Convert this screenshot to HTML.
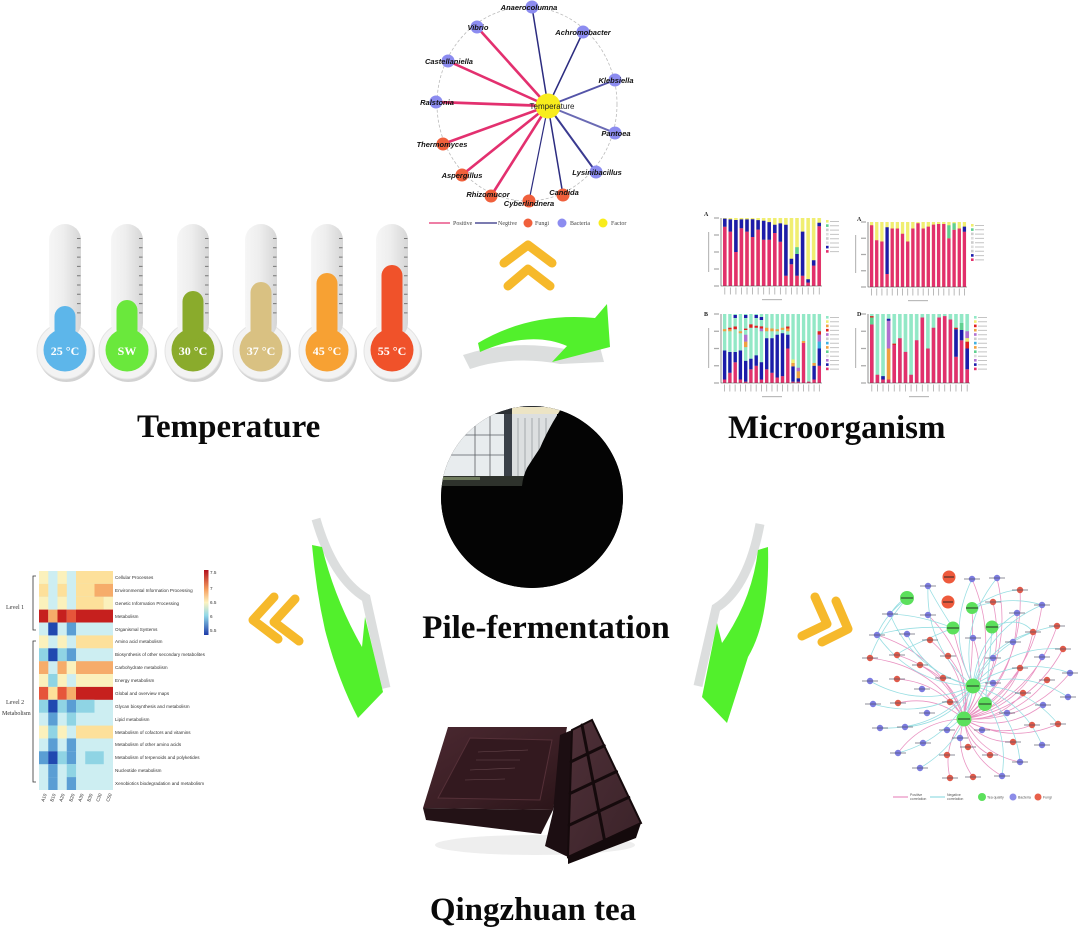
<!DOCTYPE html>
<html><head><meta charset="utf-8"><style>
html,body{margin:0;padding:0;background:#fff;}
svg{display:block;}
.lab{font-family:"Liberation Sans",sans-serif;font-weight:bold;font-style:italic;font-size:7.5px;fill:#111;}
.ttl{font-family:"Liberation Serif",serif;font-weight:bold;font-size:33px;fill:#0a0a0a;}
.tl{font-family:"Liberation Serif",serif;font-weight:bold;font-size:12px;fill:#fff;}
.hm{font-family:"Liberation Sans",sans-serif;font-size:4.6px;fill:#333;}
.sm{font-family:"Liberation Serif",serif;font-size:6px;fill:#444;}
</style></head><body>
<svg width="1080" height="930" viewBox="0 0 1080 930" xmlns="http://www.w3.org/2000/svg">
<defs>
<linearGradient id="tube" x1="0" x2="1" y1="0" y2="0"><stop offset="0" stop-color="#f6f6f6"/><stop offset="0.45" stop-color="#eeeeee"/><stop offset="1" stop-color="#d6d6d6"/></linearGradient>
<linearGradient id="cb" x1="0" x2="0" y1="0" y2="1"><stop offset="0" stop-color="#b2101e"/><stop offset="0.3" stop-color="#f6a060"/><stop offset="0.5" stop-color="#fdf3c0"/><stop offset="0.7" stop-color="#90d8e8"/><stop offset="1" stop-color="#1e3aa8"/></linearGradient>
<linearGradient id="slab" x1="0" x2="1" y1="0" y2="1"><stop offset="0" stop-color="#4a2830"/><stop offset="0.6" stop-color="#3a1e24"/><stop offset="1" stop-color="#2a1418"/></linearGradient>
<linearGradient id="face" x1="0" x2="1" y1="0" y2="1"><stop offset="0" stop-color="#4e3038"/><stop offset="1" stop-color="#3a2228"/></linearGradient>
<clipPath id="pc"><circle cx="532" cy="497" r="91"/></clipPath>
<pattern id="pA" x="722" y="0" width="5.556" height="10" patternUnits="userSpaceOnUse"><rect x="1" y="0" width="3.56" height="10" fill="#f0ee70"/></pattern>
<pattern id="pA2" x="869" y="0" width="5.158" height="10" patternUnits="userSpaceOnUse"><rect x="0.93" y="0" width="3.3" height="10" fill="#f0ee70"/></pattern>
<pattern id="pB" x="722" y="0" width="5.263" height="10" patternUnits="userSpaceOnUse"><rect x="0.95" y="0" width="3.37" height="10" fill="#92e8c6"/></pattern>
<pattern id="pD" x="869" y="0" width="5.611" height="10" patternUnits="userSpaceOnUse"><rect x="1" y="0" width="3.6" height="10" fill="#92e8c6"/></pattern>
</defs>
<rect width="1080" height="930" fill="#fff"/>

<!-- Top network -->
<ellipse cx="527" cy="104" rx="90" ry="97" fill="none" stroke="#bbb" stroke-width="0.8" stroke-dasharray="3,2"/>
<g stroke-linecap="round">
<line x1="548" y1="106" x2="477" y2="27" stroke="#e3306f" stroke-width="2.6"/>
<line x1="548" y1="106" x2="448" y2="61" stroke="#e3306f" stroke-width="2.6"/>
<line x1="548" y1="106" x2="436" y2="102" stroke="#e3306f" stroke-width="2.8"/>
<line x1="548" y1="106" x2="443" y2="144" stroke="#e3306f" stroke-width="2.6"/>
<line x1="548" y1="106" x2="462" y2="175" stroke="#e3306f" stroke-width="2.6"/>
<line x1="548" y1="106" x2="491" y2="196" stroke="#e3306f" stroke-width="2.6"/>
<line x1="548" y1="106" x2="532" y2="7" stroke="#2c2c80" stroke-width="1.5"/>
<line x1="548" y1="106" x2="583" y2="32" stroke="#2c2c80" stroke-width="1.5"/>
<line x1="548" y1="106" x2="615" y2="80" stroke="#5454a8" stroke-width="2"/>
<line x1="548" y1="106" x2="615" y2="133" stroke="#6a6ab4" stroke-width="2"/>
<line x1="548" y1="106" x2="596" y2="172" stroke="#3a3a90" stroke-width="2"/>
<line x1="548" y1="106" x2="563" y2="195" stroke="#2c2c80" stroke-width="1.5"/>
<line x1="548" y1="106" x2="529" y2="201" stroke="#2c2c80" stroke-width="1.2"/>
</g>
<g>
<circle cx="532" cy="7" r="6.5" fill="#8c8cf0"/>
<circle cx="477" cy="27" r="6.5" fill="#8c8cf0"/>
<circle cx="583" cy="32" r="6.5" fill="#8c8cf0"/>
<circle cx="448" cy="61" r="6.5" fill="#8c8cf0"/>
<circle cx="615" cy="80" r="6.5" fill="#8c8cf0"/>
<circle cx="436" cy="102" r="6.5" fill="#8c8cf0"/>
<circle cx="615" cy="133" r="6.5" fill="#8c8cf0"/>
<circle cx="596" cy="172" r="6.5" fill="#8c8cf0"/>
<circle cx="443" cy="144" r="6.5" fill="#f0603c"/>
<circle cx="462" cy="175" r="6.5" fill="#f0603c"/>
<circle cx="491" cy="196" r="6.5" fill="#f0603c"/>
<circle cx="563" cy="195" r="6.5" fill="#f0603c"/>
<circle cx="529" cy="201" r="6.5" fill="#f0603c"/>
<circle cx="548" cy="106" r="12.5" fill="#f8ec1c"/>
</g>
<g class="lab">
<text x="529" y="10" text-anchor="middle">Anaerocolumna</text>
<text x="478" y="30" text-anchor="middle">Vibrio</text>
<text x="583" y="35" text-anchor="middle">Achromobacter</text>
<text x="449" y="64" text-anchor="middle">Castellaniella</text>
<text x="616" y="83" text-anchor="middle">Klebsiella</text>
<text x="437" y="105" text-anchor="middle">Ralstonia</text>
<text x="616" y="136" text-anchor="middle">Pantoea</text>
<text x="442" y="147" text-anchor="middle">Thermomyces</text>
<text x="597" y="175" text-anchor="middle">Lysinibacillus</text>
<text x="462" y="178" text-anchor="middle">Aspergillus</text>
<text x="488" y="197" text-anchor="middle">Rhizomucor</text>
<text x="564" y="195" text-anchor="middle">Candida</text>
<text x="529" y="206" text-anchor="middle">Cyberlindnera</text>
</g>
<text x="552" y="109" text-anchor="middle" font-family="Liberation Sans" font-size="8" fill="#222">Temperature</text>
<g>
<line x1="429" y1="223" x2="450" y2="223" stroke="#e3306f" stroke-width="1.2"/>
<text x="453" y="225" class="sm">Positive</text>
<line x1="475" y1="223" x2="497" y2="223" stroke="#2c2c80" stroke-width="1.2"/>
<text x="498" y="225" class="sm">Negtive</text>
<circle cx="528" cy="223" r="4.5" fill="#f0603c"/><text x="535" y="225" class="sm">Fungi</text>
<circle cx="562" cy="223" r="4.5" fill="#8c8cf0"/><text x="570" y="225" class="sm">Bacteria</text>
<circle cx="603" cy="223" r="4.5" fill="#f8ec1c"/><text x="611" y="225" class="sm">Factor</text>
</g>

<!-- Thermometers -->
<g>
<circle cx="66.5" cy="353.5" r="28.5" fill="#d2d2d2"/><circle cx="65" cy="351" r="28" fill="#f3f3f3" stroke="#e4e4e4"/>
<rect x="49" y="224" width="32" height="115" rx="16" fill="url(#tube)"/>
<circle cx="65" cy="350" r="21.5" fill="#5db6ea"/><rect x="54.5" y="306" width="21" height="34" rx="10.5" fill="#5db6ea"/>
<line x1="78.75" x2="78.75" y1="238" y2="320" stroke="#777" stroke-width="3.5" stroke-dasharray="1 8.3"/>

<circle cx="128.5" cy="353.5" r="28.5" fill="#d2d2d2"/><circle cx="127" cy="351" r="28" fill="#f3f3f3" stroke="#e4e4e4"/>
<rect x="111" y="224" width="32" height="115" rx="16" fill="url(#tube)"/>
<circle cx="127" cy="350" r="21.5" fill="#6ae83c"/><rect x="116.5" y="300" width="21" height="40" rx="10.5" fill="#6ae83c"/>
<line x1="140.75" x2="140.75" y1="238" y2="320" stroke="#777" stroke-width="3.5" stroke-dasharray="1 8.3"/>

<circle cx="194.5" cy="353.5" r="28.5" fill="#d2d2d2"/><circle cx="193" cy="351" r="28" fill="#f3f3f3" stroke="#e4e4e4"/>
<rect x="177" y="224" width="32" height="115" rx="16" fill="url(#tube)"/>
<circle cx="193" cy="350" r="21.5" fill="#8aab2c"/><rect x="182.5" y="291" width="21" height="49" rx="10.5" fill="#8aab2c"/>
<line x1="206.75" x2="206.75" y1="238" y2="320" stroke="#777" stroke-width="3.5" stroke-dasharray="1 8.3"/>

<circle cx="262.5" cy="353.5" r="28.5" fill="#d2d2d2"/><circle cx="261" cy="351" r="28" fill="#f3f3f3" stroke="#e4e4e4"/>
<rect x="245" y="224" width="32" height="115" rx="16" fill="url(#tube)"/>
<circle cx="261" cy="350" r="21.5" fill="#d9c182"/><rect x="250.5" y="282" width="21" height="58" rx="10.5" fill="#d9c182"/>
<line x1="274.75" x2="274.75" y1="238" y2="320" stroke="#777" stroke-width="3.5" stroke-dasharray="1 8.3"/>

<circle cx="328.5" cy="353.5" r="28.5" fill="#d2d2d2"/><circle cx="327" cy="351" r="28" fill="#f3f3f3" stroke="#e4e4e4"/>
<rect x="311" y="224" width="32" height="115" rx="16" fill="url(#tube)"/>
<circle cx="327" cy="350" r="21.5" fill="#f7a133"/><rect x="316.5" y="273" width="21" height="67" rx="10.5" fill="#f7a133"/>
<line x1="340.75" x2="340.75" y1="238" y2="320" stroke="#777" stroke-width="3.5" stroke-dasharray="1 8.3"/>

<circle cx="393.5" cy="353.5" r="28.5" fill="#d2d2d2"/><circle cx="392" cy="351" r="28" fill="#f3f3f3" stroke="#e4e4e4"/>
<rect x="376" y="224" width="32" height="115" rx="16" fill="url(#tube)"/>
<circle cx="392" cy="350" r="21.5" fill="#f0522a"/><rect x="381.5" y="265" width="21" height="75" rx="10.5" fill="#f0522a"/>
<line x1="405.75" x2="405.75" y1="238" y2="320" stroke="#777" stroke-width="3.5" stroke-dasharray="1 8.3"/>
</g>
<g class="tl" text-anchor="middle">
<text x="65" y="355">25 °C</text>
<text x="127" y="355">SW</text>
<text x="193" y="355">30 °C</text>
<text x="261" y="355">37 °C</text>
<text x="327" y="355">45 °C</text>
<text x="392" y="355">55 °C</text>
</g>
<text class="ttl" x="137" y="437">Temperature</text>
<text class="ttl" x="728" y="438">Microorganism</text>
<text class="ttl" x="546" y="638" text-anchor="middle">Pile-fermentation</text>
<text class="ttl" x="533" y="920" text-anchor="middle">Qingzhuan tea</text>

<!-- chevrons -->
<g fill="none" stroke="#f6b92b" stroke-width="9" stroke-linecap="round" stroke-linejoin="round">
<polyline points="504,263 528,245 552,263"/>
<polyline points="508,286 528,269 550,286"/>
<polyline points="274,597 253,620 278,639"/>
<polyline points="295,599 274,622 299,641"/>
<polyline points="815,597 827,624 802,636"/>
<polyline points="836,601 848,629 822,642"/>
</g>

<!-- arrows -->
<path d="M463,355 Q512,339 565,349 L600,347 L604,362 L560,364 Q512,355 470,369 Z" fill="#dcdede"/>
<path d="M316,519 Q333,578 366,598 L386,688" fill="none" stroke="#dcdede" stroke-width="9"/>
<path d="M760,524 Q748,588 716,608 L698,686" fill="none" stroke="#dcdede" stroke-width="9"/>
<path d="M478,343 Q530,312 595,318 L607,304 L610,347 L552,362 L567,346 Q530,330 480,352 Z" fill="#52f02c"/>
<path d="M312,545 L322,547 Q335,600 362,647 L365,617 L383,692 L358,718 Q338,680 325,630 Q316,590 312,545 Z" fill="#52f02c"/>
<path d="M758,550 L768,547 Q770,620 748,657 L727,723 L702,697 L717,623 L722,643 Q752,600 758,550 Z" fill="#52f02c"/>

<!-- Center photo -->
<g clip-path="url(#pc)">
<rect x="440" y="405" width="185" height="185" fill="#040404"/>
<rect x="440" y="414" width="66" height="63" fill="#e8ecee"/>
<rect x="440" y="414" width="30" height="12" fill="#dfe4e8"/>
<g stroke="#5a5e62" stroke-width="0.8">
<line x1="440" y1="435" x2="505" y2="435"/><line x1="440" y1="455" x2="505" y2="455"/>
<line x1="475" y1="416" x2="475" y2="477"/><line x1="490" y1="416" x2="490" y2="477"/>
</g>
<rect x="504" y="412" width="8" height="68" fill="#3a4048"/>
<rect x="512" y="414" width="45" height="66" fill="#dcdfe0"/>
<g stroke="#a4a8ac" stroke-width="1"><line x1="518" y1="418" x2="518" y2="478"/><line x1="525" y1="418" x2="525" y2="478"/><line x1="532" y1="418" x2="532" y2="478"/><line x1="539" y1="418" x2="539" y2="478"/><line x1="546" y1="418" x2="546" y2="478"/></g>
<rect x="440" y="403" width="125" height="11" fill="#2c3034"/>
<rect x="512" y="407" width="48" height="7" fill="#ece4c4"/>
<rect x="440" y="476" width="88" height="10" fill="#2e322c"/>
<rect x="440" y="477" width="40" height="3" fill="#6e7a5c"/>
<path d="M564,404 L553,422 Q545,436 540,448 Q532,460 527,468 Q523,476 522,486 L440,488 L440,600 L640,600 L640,404 Z" fill="#040404"/>
</g>

<!-- Bar charts -->
<rect x="722" y="218" width="100" height="68" fill="url(#pA)"/>
<rect x="869" y="222" width="98" height="65" fill="url(#pA2)"/>
<rect x="722" y="314" width="100" height="69" fill="url(#pB)"/>
<rect x="869" y="314" width="101" height="69" fill="url(#pD)"/>
<g fill="none">
<path stroke="#e2306c" stroke-width="3.56" d="M724.8,286V226.8M730.3,286V231.6M735.9,286V252M741.4,286V228.2M747,286V231.6M752.6,286V237M758.1,286V229.6M763.7,286V239.8M769.2,286V239.8M774.8,286V233M780.3,286V241.8M785.9,286V275.8M791.4,286V264.2M797,286V275.8M802.6,286V275.8M808.1,286V282.6M813.7,286V265.6M819.2,286V226.2"/>
<path stroke="#1c1caa" stroke-width="3.56" d="M724.8,226.8V218.6M730.3,231.6V219.4M735.9,252V220M741.4,228.2V219.4M747,231.6V219.4M752.6,237V219.3M758.1,229.6V220.1M763.7,239.8V220.8M769.2,239.8V222.1M774.8,233V224.8M780.3,241.8V223.4M785.9,275.8V224.8M791.4,264.2V258.8M797,275.8V254M802.6,275.8V231.6M808.1,282.6V279.2M813.7,265.6V260.2M819.2,226.2V222.8"/>
<path stroke="#60d090" stroke-width="3.56" d="M797,254V247.2"/>

<path stroke="#e2306c" stroke-width="3.3" d="M871.6,287V225.3M876.7,287V240.2M881.9,287V241.5M887.1,287V274M892.2,287V228.5M897.4,287V228.5M902.5,287V233.7M907.7,287V241.5M912.9,287V228.5M918,287V223.3M923.2,287V228.5M928.3,287V226.6M933.5,287V224.6M938.6,287V224M943.8,287V224M948.9,287V238.3M954.1,287V229.8M959.3,287V228.5M964.4,287V231.8"/>
<path stroke="#1c1caa" stroke-width="3.3" d="M887.1,274V227.2M964.4,231.8V226.6"/>
<path stroke="#60d090" stroke-width="3.3" d="M948.9,238.3V225.3M954.1,229.8V223.3"/>

<path stroke="#e2306c" stroke-width="3.37" d="M724.6,383V379.5M729.9,383V372.7M735.2,383V362.3M740.4,383V379.5M745.7,383V381.6M750.9,383V369.2M756.2,383V365.8M761.4,383V379.5M766.7,383V369.2M772,383V372.7M777.2,383V377.5M782.5,383V376.1M787.8,383V348.5M793,383V381.6M798.3,383V381.6M803.5,383V343M808.8,383V381.6M814.1,383V379.5M819.3,383V365.8"/>
<path stroke="#1c1caa" stroke-width="3.37" d="M724.6,379.5V350.5M729.9,372.7V352M735.2,362.3V352M740.4,379.5V350.5M745.7,381.6V360.9M750.9,369.2V358.8M756.2,365.8V355.4M761.4,379.5V362.3M766.7,369.2V338.2M772,372.7V338.2M777.2,377.5V334.7M782.5,376.1V333.3M787.8,348.5V334.7M793,381.6V366.4M798.3,381.6V378.2M814.1,379.5V365.7M819.3,365.8V348.5M735.2,318V315M756.2,318V315M761.4,320V317M745.7,318V315"/>
<path stroke="#f0a040" stroke-width="3.37" d="M724.6,331.2V329.1M729.9,331.3V329.2M740.4,333.3V331.2M745.7,347.1V341.6M766.7,331.3V327.8M772,331.3V328.5M777.2,331.2V329.2M782.5,329.9V327.8M787.8,331.3V328.5M793,366.4V363M798.3,378.2V371.3M803.5,343V341M814.1,365.7V363"/>
<path stroke="#e02020" stroke-width="3.37" d="M729.9,329.2V327.8M735.2,329.2V326.5M745.7,330V328.6M750.9,327.8V324.4M756.2,327.8V325.7M761.4,328.5V326.4M787.8,328.5V326.5M819.3,334.7V331.3"/>
<path stroke="#b070d0" stroke-width="3.37" d="M745.7,341.6V334.7M761.4,331.2V328.5M798.3,371.3V367.8M819.3,341.6V334.7"/>
<path stroke="#f0ee70" stroke-width="3.37" d="M793,363V359.5"/>
<path stroke="#40b0e0" stroke-width="3.37" d="M819.3,348.5V341.6"/>

<path stroke="#e2306c" stroke-width="3.6" d="M871.8,383V324.4M877.4,383V374.7M883,383V379.5M888.6,383V379.5M894.2,383V345M899.9,383V338.2M905.5,383V351.9M911.1,383V374.7M916.7,383V340.2M922.3,383V317.5M927.9,383V348.5M933.5,383V327.8M939.1,383V317.5M944.7,383V316.1M950.4,383V319.5M956,383V356.8M961.6,383V340.2M967.2,383V369.2"/>
<path stroke="#1c1caa" stroke-width="3.6" d="M883,379.5V376.1M888.6,320.9V318.8M956,356.8V329.2M961.6,340.2V329.9M967.2,369.2V348.5"/>
<path stroke="#f0a040" stroke-width="3.6" d="M888.6,379.5V348.5"/>
<path stroke="#b070d0" stroke-width="3.6" d="M888.6,348.5V320.9M967.2,338.2V331.3"/>
<path stroke="#e02020" stroke-width="3.6" d="M871.8,317.5V316.1M894.2,345V343.6M956,329.2V327.8M967.2,348.5V341.6"/>
<path stroke="#60d090" stroke-width="3.6" d="M871.8,324.4V317.5M961.6,329.9V323"/>
<path stroke="#f0ee70" stroke-width="3.6" d="M967.2,341.6V338.2"/>

<!-- axes -->
<path stroke="#444" stroke-width="0.6" d="M721,218V286H822M868,222V287H967M721,314V383H822M868,314V383H970"/>
<g stroke="#aaa">
<line x1="716.5" x2="716.5" y1="217.4" y2="286.6" stroke-width="5" stroke-dasharray="1.2 15.8"/>
<line x1="863.5" x2="863.5" y1="221.4" y2="287.6" stroke-width="5" stroke-dasharray="1.2 15.05"/>
<line x1="716.5" x2="716.5" y1="313.4" y2="383.6" stroke-width="5" stroke-dasharray="1.2 16.05"/>
<line x1="863.5" x2="863.5" y1="313.4" y2="383.6" stroke-width="5" stroke-dasharray="1.2 16.05"/>
<line x1="724.4" x2="822" y1="291" y2="291" stroke-width="7" stroke-dasharray="0.8 4.756"/>
<line x1="871.2" x2="967" y1="292" y2="292" stroke-width="7" stroke-dasharray="0.8 4.358"/>
<line x1="724.2" x2="822" y1="388" y2="388" stroke-width="7" stroke-dasharray="0.8 4.463"/>
<line x1="871.4" x2="970" y1="388" y2="388" stroke-width="7" stroke-dasharray="0.8 4.811"/>
</g>
<g fill="#bbb">
<rect x="708" y="232" width="1.2" height="40"/><rect x="855" y="235" width="1.2" height="38"/>
<rect x="708" y="328" width="1.2" height="40"/><rect x="855" y="328" width="1.2" height="40"/>
<rect x="762" y="299" width="20" height="1.2"/><rect x="908" y="300" width="20" height="1.2"/>
<rect x="762" y="396" width="20" height="1.2"/><rect x="909" y="396" width="20" height="1.2"/>
</g>
<!-- legends -->
<g stroke="#c4c4c4" stroke-width="9">
<line x1="834.5" x2="834.5" y1="221" y2="254" stroke-dasharray="1 3.3"/>
<line x1="979.5" x2="979.5" y1="225" y2="262" stroke-dasharray="1 3.3"/>
<line x1="834.5" x2="834.5" y1="317" y2="370" stroke-dasharray="1 3.3"/>
<line x1="982.5" x2="982.5" y1="317" y2="370" stroke-dasharray="1 3.3"/>
</g>
<g>
<rect x="826" y="220" width="2.6" height="2.6" fill="#f0ee70"/><rect x="826" y="224.3" width="2.6" height="2.6" fill="#60d090"/><rect x="826" y="228.6" width="2.6" height="2.6" fill="#ccc"/><rect x="826" y="232.9" width="2.6" height="2.6" fill="#ddd"/><rect x="826" y="237.2" width="2.6" height="2.6" fill="#ccc"/><rect x="826" y="241.5" width="2.6" height="2.6" fill="#ddd"/><rect x="826" y="245.8" width="2.6" height="2.6" fill="#1c1caa"/><rect x="826" y="250.1" width="2.6" height="2.6" fill="#e2306c"/>
<rect x="971" y="224" width="2.6" height="2.6" fill="#f0ee70"/><rect x="971" y="228.3" width="2.6" height="2.6" fill="#60d090"/><rect x="971" y="232.6" width="2.6" height="2.6" fill="#ccc"/><rect x="971" y="236.9" width="2.6" height="2.6" fill="#ddd"/><rect x="971" y="241.2" width="2.6" height="2.6" fill="#ccc"/><rect x="971" y="245.5" width="2.6" height="2.6" fill="#ddd"/><rect x="971" y="249.8" width="2.6" height="2.6" fill="#ccc"/><rect x="971" y="254.1" width="2.6" height="2.6" fill="#1c1caa"/><rect x="971" y="258.4" width="2.6" height="2.6" fill="#e2306c"/>
<rect x="826" y="316" width="2.6" height="2.6" fill="#92e8c6"/><rect x="826" y="320.3" width="2.6" height="2.6" fill="#f0ee70"/><rect x="826" y="324.6" width="2.6" height="2.6" fill="#f0a040"/><rect x="826" y="328.9" width="2.6" height="2.6" fill="#e02020"/><rect x="826" y="333.2" width="2.6" height="2.6" fill="#b070d0"/><rect x="826" y="337.5" width="2.6" height="2.6" fill="#ccc"/><rect x="826" y="341.8" width="2.6" height="2.6" fill="#40b0e0"/><rect x="826" y="346.1" width="2.6" height="2.6" fill="#f0a040"/><rect x="826" y="350.4" width="2.6" height="2.6" fill="#60d090"/><rect x="826" y="354.7" width="2.6" height="2.6" fill="#ddd"/><rect x="826" y="359" width="2.6" height="2.6" fill="#b070d0"/><rect x="826" y="363.3" width="2.6" height="2.6" fill="#1c1caa"/><rect x="826" y="367.6" width="2.6" height="2.6" fill="#e2306c"/>
<rect x="974" y="316" width="2.6" height="2.6" fill="#92e8c6"/><rect x="974" y="320.3" width="2.6" height="2.6" fill="#f0ee70"/><rect x="974" y="324.6" width="2.6" height="2.6" fill="#e02020"/><rect x="974" y="328.9" width="2.6" height="2.6" fill="#f0a040"/><rect x="974" y="333.2" width="2.6" height="2.6" fill="#b070d0"/><rect x="974" y="337.5" width="2.6" height="2.6" fill="#ccc"/><rect x="974" y="341.8" width="2.6" height="2.6" fill="#40b0e0"/><rect x="974" y="346.1" width="2.6" height="2.6" fill="#f0a040"/><rect x="974" y="350.4" width="2.6" height="2.6" fill="#60d090"/><rect x="974" y="354.7" width="2.6" height="2.6" fill="#ddd"/><rect x="974" y="359" width="2.6" height="2.6" fill="#b070d0"/><rect x="974" y="363.3" width="2.6" height="2.6" fill="#1c1caa"/><rect x="974" y="367.6" width="2.6" height="2.6" fill="#e2306c"/>
</g>
</g>
<g font-family="Liberation Serif" font-weight="bold" font-size="6" fill="#222">
<text x="704" y="216">A</text><text x="857" y="221">A</text><text x="704" y="316">B</text><text x="857" y="316">D</text>
</g>

<!-- Heatmap -->
<g>
<rect x="39" y="571" width="74" height="219" fill="#cdeef2"/>
<rect x="39" y="571" width="9.3" height="12.9" fill="#fbf1bc"/><rect x="57.5" y="571" width="9.3" height="12.9" fill="#fbf1bc"/><rect x="76" y="571" width="37" height="12.9" fill="#fde09a"/>
<rect x="39" y="583.9" width="9.3" height="12.9" fill="#fde09a"/><rect x="57.5" y="583.9" width="9.3" height="12.9" fill="#fde09a"/><rect x="76" y="583.9" width="18.5" height="12.9" fill="#fde09a"/><rect x="94.5" y="583.9" width="18.5" height="12.9" fill="#f6ac6a"/>
<rect x="39" y="596.8" width="9.3" height="12.9" fill="#fbf1bc"/><rect x="57.5" y="596.8" width="9.3" height="12.9" fill="#fbf1bc"/><rect x="76" y="596.8" width="27.8" height="12.9" fill="#fde09a"/><rect x="103.75" y="596.8" width="9.25" height="12.9" fill="#fbf1bc"/>
<rect x="39" y="609.6" width="9.3" height="12.9" fill="#c6201e"/><rect x="48.25" y="609.6" width="9.3" height="12.9" fill="#f6ac6a"/><rect x="57.5" y="609.6" width="9.3" height="12.9" fill="#c6201e"/><rect x="66.75" y="609.6" width="9.3" height="12.9" fill="#e6553a"/><rect x="76" y="609.6" width="37" height="12.9" fill="#c6201e"/>
<rect x="48.25" y="622.5" width="9.3" height="12.9" fill="#2048b0"/><rect x="66.75" y="622.5" width="9.3" height="12.9" fill="#5a9ed4"/>
<rect x="39" y="635.4" width="9.3" height="12.9" fill="#fbf1bc"/><rect x="57.5" y="635.4" width="9.3" height="12.9" fill="#fbf1bc"/><rect x="76" y="635.4" width="37" height="12.9" fill="#fde09a"/>
<rect x="39" y="648.3" width="9.3" height="12.9" fill="#8fd4e4"/><rect x="48.25" y="648.3" width="9.3" height="12.9" fill="#2048b0"/><rect x="57.5" y="648.3" width="9.3" height="12.9" fill="#8fd4e4"/><rect x="66.75" y="648.3" width="9.3" height="12.9" fill="#5a9ed4"/>
<rect x="39" y="661.2" width="9.3" height="12.9" fill="#f6ac6a"/><rect x="57.5" y="661.2" width="9.3" height="12.9" fill="#f6ac6a"/><rect x="66.75" y="661.2" width="9.3" height="12.9" fill="#fbf1bc"/><rect x="76" y="661.2" width="37" height="12.9" fill="#f6ac6a"/>
<rect x="39" y="674" width="9.3" height="12.9" fill="#fbf1bc"/><rect x="48.25" y="674" width="9.3" height="12.9" fill="#8fd4e4"/><rect x="57.5" y="674" width="9.3" height="12.9" fill="#fbf1bc"/><rect x="76" y="674" width="37" height="12.9" fill="#fbf1bc"/>
<rect x="39" y="686.9" width="9.3" height="12.9" fill="#e6553a"/><rect x="48.25" y="686.9" width="9.3" height="12.9" fill="#fde09a"/><rect x="57.5" y="686.9" width="9.3" height="12.9" fill="#e6553a"/><rect x="66.75" y="686.9" width="9.3" height="12.9" fill="#f6ac6a"/><rect x="76" y="686.9" width="37" height="12.9" fill="#c6201e"/>
<rect x="39" y="699.8" width="9.3" height="12.9" fill="#8fd4e4"/><rect x="48.25" y="699.8" width="9.3" height="12.9" fill="#2048b0"/><rect x="57.5" y="699.8" width="9.3" height="12.9" fill="#8fd4e4"/><rect x="66.75" y="699.8" width="9.3" height="12.9" fill="#5a9ed4"/><rect x="76" y="699.8" width="18.5" height="12.9" fill="#8fd4e4"/>
<rect x="48.25" y="712.7" width="9.3" height="12.9" fill="#5a9ed4"/><rect x="66.75" y="712.7" width="9.3" height="12.9" fill="#8fd4e4"/>
<rect x="39" y="725.6" width="9.3" height="12.9" fill="#fbf1bc"/><rect x="48.25" y="725.6" width="9.3" height="12.9" fill="#8fd4e4"/><rect x="57.5" y="725.6" width="9.3" height="12.9" fill="#fbf1bc"/><rect x="76" y="725.6" width="37" height="12.9" fill="#fde09a"/>
<rect x="48.25" y="738.4" width="9.3" height="12.9" fill="#5a9ed4"/><rect x="66.75" y="738.4" width="9.3" height="12.9" fill="#5a9ed4"/>
<rect x="39" y="751.3" width="9.3" height="12.9" fill="#5a9ed4"/><rect x="48.25" y="751.3" width="9.3" height="12.9" fill="#2048b0"/><rect x="57.5" y="751.3" width="9.3" height="12.9" fill="#8fd4e4"/><rect x="66.75" y="751.3" width="9.3" height="12.9" fill="#5a9ed4"/><rect x="85.25" y="751.3" width="18.5" height="12.9" fill="#8fd4e4"/>
<rect x="48.25" y="764.2" width="9.3" height="12.9" fill="#5a9ed4"/><rect x="66.75" y="764.2" width="9.3" height="12.9" fill="#8fd4e4"/>
<rect x="48.25" y="777.1" width="9.3" height="12.9" fill="#5a9ed4"/><rect x="66.75" y="777.1" width="9.3" height="12.9" fill="#5a9ed4"/>
</g>
<rect x="204" y="570" width="4.5" height="65" fill="url(#cb)"/>
<g class="hm">
<text x="115" y="579">Cellular Processes</text>
<text x="115" y="592">Environmental Information Processing</text>
<text x="115" y="605">Genetic Information Processing</text>
<text x="115" y="618">Metabolism</text>
<text x="115" y="631">Organismal Systems</text>
<text x="115" y="643">Amino acid metabolism</text>
<text x="115" y="656">Biosynthesis of other secondary metabolites</text>
<text x="115" y="669">Carbohydrate metabolism</text>
<text x="115" y="682">Energy metabolism</text>
<text x="115" y="695">Global and overview maps</text>
<text x="115" y="708">Glycan biosynthesis and metabolism</text>
<text x="115" y="721">Lipid metabolism</text>
<text x="115" y="734">Metabolism of cofactors and vitamins</text>
<text x="115" y="746">Metabolism of other amino acids</text>
<text x="115" y="759">Metabolism of terpenoids and polyketides</text>
<text x="115" y="772">Nucleotide metabolism</text>
<text x="115" y="785">Xenobiotics biodegradation and metabolism</text>
</g>
<g class="hm" font-size="3.5">
<text x="210" y="574">7.5</text><text x="210" y="590">7</text><text x="210" y="604">6.5</text><text x="210" y="618">6</text><text x="210" y="632">5.5</text>
</g>
<g fill="none" stroke="#333" stroke-width="0.8">
<polyline points="36,576 33,576 33,630 36,630"/>
<polyline points="36,641 33,641 33,782 36,782"/>
</g>
<g font-family="Liberation Serif" font-size="6" fill="#333">
<text x="6" y="609">Level 1</text>
<text x="6" y="704">Level 2</text>
<text x="2" y="715">Metabolism</text>
</g>
<g class="hm" font-size="4">
<text transform="translate(44,802) rotate(-70)">A10</text>
<text transform="translate(53,802) rotate(-70)">B10</text>
<text transform="translate(62,802) rotate(-70)">A20</text>
<text transform="translate(72,802) rotate(-70)">B20</text>
<text transform="translate(81,802) rotate(-70)">A30</text>
<text transform="translate(90,802) rotate(-70)">B30</text>
<text transform="translate(99,802) rotate(-70)">C30</text>
<text transform="translate(109,802) rotate(-70)">C50</text>
</g>

<!-- Bottom-right network -->
<g fill="none" stroke-width="0.8" opacity="0.8">
<path stroke="#e47ab4" d="M964,719Q1003,651 972,579M964,719Q1015.8,656.8 997,578M964,719Q1024.3,668.5 1020,590M964,719Q1007.8,667.8 993,602M964,719Q1031.5,681.5 1042,605M964,719Q972,658 928,615M964,719Q1017,679.3 1017,613M964,719Q1033.8,695.8 1057,626M964,719Q941.5,655.3 877,635M964,719Q966.8,671 930,640M964,719Q988.8,680.8 973,638M964,719Q1020.3,692.8 1033,632M964,719Q1031,708.8 1063,649M964,719Q932.3,665 870,658M964,719Q946.5,670.3 897,655M964,719Q971.8,683.5 948,656M964,719Q1018.5,707.5 1042,657M964,719Q955.5,681 920,665M964,719Q1004.8,707.5 1020,668M964,719Q1028.5,722.5 1070,673M964,719Q940.5,682.3 897,679M964,719Q1015.3,720.3 1047,680M964,719Q1000,720.8 1023,693M964,719Q935,694.5 898,703M964,719Q1007,731.8 1043,705M964,719Q996.5,739 1032,725M964,719Q1009.8,745 1058,724M964,719Q982.8,742.8 1013,742M964,719Q922.5,719.5 898,753M964,719Q968,743.5 990,755M964,719Q981.3,754.5 1020,762M964,719Q942.3,745 950,778M964,719Q954,750.3 973,777M964,719Q968.8,757 1002,776M953,628Q960,660 973,686M972,608Q975,660 964,719"/>
<path stroke="#7fd6dc" d="M973,686Q925.5,647.3 928,586M973,686Q913.5,670.8 890,614M973,686Q912.3,684.5 877,635M973,686Q920.3,709.3 870,681M973,686Q927.5,720 873,704M973,686Q937,730.3 880,728M973,686Q952.3,738.3 898,753M973,686Q967,740.3 920,768M973,686Q945.8,632.8 972,579M973,686Q958,626 997,578M973,686Q987.3,628.3 1042,605M973,686Q1000,635 1057,626M973,686Q1008.8,645 1063,649M973,686Q1018.3,655.3 1070,673M973,686Q1023.3,667.8 1068,697M973,686Q1025,683.8 1058,724M973,686Q1022.3,698.3 1042,745M973,686Q1015.5,712.3 1020,762M973,686Q1010,723.8 1002,776M973,686Q971,714.5 947,730M973,686Q949.3,723.5 905,727M973,686Q976.8,638.5 1017,613M973,686Q927,676.5 907,634M973,686Q989.5,644 1033,632M953,628Q920,615 890,614M953,628Q910,625 877,635M953,628Q935,600 928,586M972,608Q1000,590 1020,590M972,608Q1010,595 1042,605M907,598Q885,615 877,635M907,598Q900,600 890,614M907,598Q880,630 870,658M992,627Q1020,615 1033,632M992,627Q990,660 985,704M953,628Q900,650 897,655"/>
</g>
<path fill="none" stroke="#7c7ce0" stroke-width="6.4" stroke-linecap="round" d="M972,579h0.01M997,578h0.01M928,586h0.01M1042,605h0.01M890,614h0.01M928,615h0.01M1017,613h0.01M877,635h0.01M907,634h0.01M973,638h0.01M1013,642h0.01M993,658h0.01M1042,657h0.01M1070,673h0.01M870,681h0.01M922,689h0.01M993,683h0.01M1068,697h0.01M873,704h0.01M1043,705h0.01M927,713h0.01M1007,713h0.01M880,728h0.01M905,727h0.01M947,730h0.01M982,730h0.01M923,743h0.01M960,738h0.01M1042,745h0.01M898,753h0.01M1020,762h0.01M920,768h0.01M1002,776h0.01"/>
<path fill="none" stroke="#e05a4a" stroke-width="6.4" stroke-linecap="round" d="M1020,590h0.01M993,602h0.01M1057,626h0.01M930,640h0.01M1033,632h0.01M1063,649h0.01M870,658h0.01M897,655h0.01M948,656h0.01M920,665h0.01M1020,668h0.01M897,679h0.01M943,678h0.01M1047,680h0.01M1023,693h0.01M898,703h0.01M950,702h0.01M1032,725h0.01M1058,724h0.01M1013,742h0.01M947,755h0.01M968,747h0.01M990,755h0.01M950,778h0.01M973,777h0.01"/>
<path fill="none" stroke="#556" stroke-width="1.4" opacity="0.45" d="M964,579h16M989,578h16M920,586h16M1034,605h16M882,614h16M920,615h16M1009,613h16M869,635h16M899,634h16M965,638h16M1005,642h16M985,658h16M1034,657h16M1062,673h16M862,681h16M914,689h16M985,683h16M1060,697h16M865,704h16M1035,705h16M919,713h16M999,713h16M872,728h16M897,727h16M939,730h16M974,730h16M915,743h16M952,738h16M1034,745h16M890,753h16M1012,762h16M912,768h16M994,776h16M1012,590h16M985,602h16M1049,626h16M922,640h16M1025,632h16M1055,649h16M862,658h16M889,655h16M940,656h16M912,665h16M1012,668h16M889,679h16M935,678h16M1039,680h16M1015,693h16M890,703h16M942,702h16M1024,725h16M1050,724h16M1005,742h16M939,755h16M960,747h16M982,755h16M942,778h16M965,777h16"/>
<g fill="#5ce05c">
<circle cx="907" cy="598" r="7"/><circle cx="972" cy="608" r="6"/><circle cx="953" cy="628" r="6.5"/><circle cx="992" cy="627" r="6.5"/><circle cx="973" cy="686" r="7.5"/><circle cx="985" cy="704" r="7"/><circle cx="964" cy="719" r="7.5"/>
</g>
<circle cx="949" cy="577" r="6.5" fill="#ee5a3c"/><circle cx="948" cy="602" r="6.5" fill="#ee5a3c"/>
<path fill="none" stroke="#222" stroke-width="1.6" opacity="0.6" d="M901,598h12M966,608h12M947,628h12M986,627h12M967,686h12M979,704h12M958,719h12M944,577h10M943,602h10"/>
<g font-family="Liberation Sans" font-size="3.5" fill="#555">
<line x1="893" y1="797" x2="908" y2="797" stroke="#e47ab4" stroke-width="1"/>
<text x="910" y="796">Positive</text><text x="910" y="800">correlation</text>
<line x1="930" y1="797" x2="945" y2="797" stroke="#7fd6dc" stroke-width="1"/>
<text x="947" y="796">Negative</text><text x="947" y="800">correlation</text>
<circle cx="982" cy="797" r="4" fill="#5ce05c"/><text x="987" y="798.5">Tea quality</text>
<circle cx="1013" cy="797" r="3.5" fill="#8c8ce8"/><text x="1018" y="798.5">Bacteria</text>
<circle cx="1038" cy="797" r="3.5" fill="#e8604a"/><text x="1043" y="798.5">Fungi</text>
</g>

<!-- Tea bricks -->
<ellipse cx="535" cy="845" rx="100" ry="10" fill="#eeeeee"/>
<polygon points="448,727 567,727 553,810 423,808" fill="url(#slab)"/>
<polygon points="423,808 553,810 541,834 426,820" fill="#231216"/>
<polygon points="470,738 552,740 540,800 438,798" fill="#33191f" stroke="#553038" stroke-width="1"/>
<g stroke="#6a4a50" stroke-width="0.6" fill="none">
<line x1="478" y1="752" x2="528" y2="750"/><line x1="476" y1="760" x2="520" y2="760"/><line x1="470" y1="770" x2="515" y2="768"/><line x1="465" y1="780" x2="505" y2="779"/>
</g>
<polygon points="545,846 568,857 572,730 560,735 553,812" fill="#1c0e12"/>
<polygon points="641,823 636,838 568,864 568,857" fill="#140a0c"/>
<polygon points="572,730 592,720 641,823 568,857" fill="url(#face)"/>
<g stroke="#150a0c" stroke-width="3" fill="none" stroke-linecap="round">
<polygon points="572,730 592,720 641,823 568,857" stroke-width="2"/>
<line x1="582" y1="725" x2="604.5" y2="840"/>
<line x1="571" y1="761.75" x2="604.25" y2="745.75"/>
<line x1="570" y1="793.5" x2="616.5" y2="771.5"/>
<line x1="569" y1="825.25" x2="628.75" y2="797.25"/>
</g>
</svg>
</body></html>
